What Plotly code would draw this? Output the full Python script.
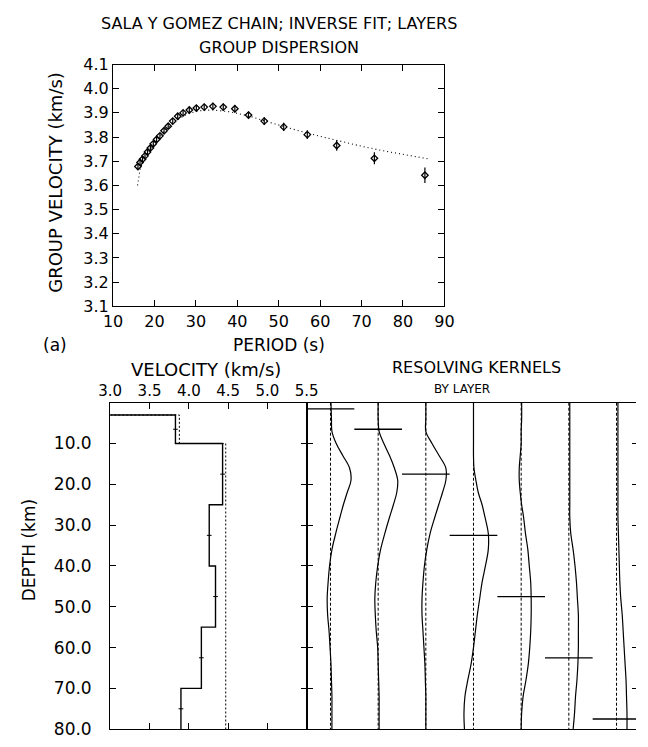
import plotly.graph_objects as go

# ---------------- Group dispersion (top panel) ----------------
period_obs = [16.0, 16.5, 17.1, 17.7, 18.3, 19.0, 19.7, 20.5, 21.3, 22.3, 23.3, 24.4, 25.6, 26.9,
              28.4, 30.1, 32.0, 34.1, 36.6, 39.4, 42.7, 46.5, 51.2, 56.9, 64.0, 73.1, 85.3]
u_obs = [3.678, 3.695, 3.708, 3.722, 3.738, 3.755, 3.772, 3.790, 3.805, 3.826, 3.845, 3.866, 3.886, 3.900,
         3.912, 3.920, 3.924, 3.927, 3.924, 3.917, 3.891, 3.866, 3.842, 3.810, 3.765, 3.712, 3.642]
u_err = [0.012, 0.012, 0.012, 0.012, 0.012, 0.012, 0.012, 0.012, 0.012, 0.012, 0.012, 0.012, 0.012, 0.012,
         0.013, 0.013, 0.014, 0.015, 0.015, 0.015, 0.015, 0.016, 0.017, 0.018, 0.022, 0.025, 0.032]

period_model = [15.9, 16.2, 16.5, 17.0, 18.0, 19.0, 20.0, 21.0, 22.0, 23.0, 24.0, 25.0, 26.0, 27.0, 28.0,
                30.0, 32.0, 34.0, 36.0, 38.0, 40.0, 43.0, 46.0, 50.0, 55.0, 60.0, 65.0, 70.0, 75.0, 80.0, 86.0]
u_model = [3.600, 3.640, 3.665, 3.690, 3.722, 3.750, 3.775, 3.797, 3.817, 3.835, 3.851, 3.865, 3.877, 3.887, 3.896,
           3.906, 3.911, 3.912, 3.910, 3.905, 3.898, 3.886, 3.870, 3.849, 3.825, 3.803, 3.782, 3.762, 3.744, 3.728, 3.710]

period_ticks = [10, 20, 30, 40, 50, 60, 70, 80, 90]
u_ticks = [3.1, 3.2, 3.3, 3.4, 3.5, 3.6, 3.7, 3.8, 3.9, 4.0, 4.1]

# ---------------- Layered velocity model (bottom left) ----------------
layer_top = [0, 3, 10, 25, 40, 55, 70]
layer_bot = [3, 10, 25, 40, 55, 70, 80]
vs_final = [0.0, 3.83, 4.43, 4.26, 4.34, 4.16, 3.90]
vs_start = [0.0, 3.88, 4.47, 4.47, 4.47, 4.47, 4.47]
vs_err = [0.0, 0.03, 0.03, 0.03, 0.03, 0.03, 0.03]
vel_ticks = [3.0, 3.5, 4.0, 4.5, 5.0, 5.5]
depth_ticks = [10, 20, 30, 40, 50, 60, 70, 80]

# ---------------- Resolving kernels (bottom right) ----------------
kernel_depth = [0, 4, 7, 10, 13, 16, 19, 22, 25, 28, 32, 36, 40, 44, 48, 52, 56, 60, 64, 68, 72, 76, 80]
kernel_1 = [0.01, 0.02, 0.03, 0.12, 0.26, 0.40, 0.43, 0.35, 0.27, 0.20, 0.11, 0.03, -0.02, -0.05, -0.07, -0.06, -0.03, -0.01, 0.01, 0.02, 0.03, 0.03, 0.03]
kernel_2 = [0.0, 0.0, 0.02, 0.12, 0.24, 0.34, 0.41, 0.39, 0.32, 0.24, 0.14, 0.05, -0.01, -0.05, -0.07, -0.06, -0.04, -0.01, 0.0, 0.01, 0.02, 0.02, 0.02]
kernel_3 = [0.0, 0.0, 0.0, 0.13, 0.28, 0.42, 0.42, 0.35, 0.27, 0.19, 0.09, 0.02, -0.03, -0.06, -0.08, -0.08, -0.06, -0.04, -0.02, -0.01, 0.0, 0.0, 0.0]
kernel_4 = [0.0, 0.0, 0.0, 0.0, 0.0, 0.01, 0.05, 0.10, 0.18, 0.24, 0.31, 0.31, 0.25, 0.18, 0.13, 0.08, 0.04, 0.0, -0.05, -0.12, -0.18, -0.20, -0.19]
kernel_5 = [0.01, 0.01, 0.0, 0.0, -0.02, -0.04, -0.04, -0.02, 0.01, 0.05, 0.09, 0.14, 0.17, 0.20, 0.21, 0.21, 0.20, 0.18, 0.15, 0.10, 0.04, 0.01, 0.0]
kernel_6 = [0.02, 0.02, 0.02, 0.02, 0.02, 0.02, 0.02, 0.02, 0.02, 0.02, 0.04, 0.09, 0.13, 0.16, 0.18, 0.20, 0.20, 0.20, 0.19, 0.17, 0.14, 0.12, 0.09]
kernel_7 = [0.03, 0.03, 0.03, 0.03, 0.03, 0.03, 0.03, 0.03, 0.03, 0.03, 0.04, 0.05, 0.06, 0.07, 0.09, 0.12, 0.14, 0.16, 0.18, 0.20, 0.21, 0.22, 0.22]
kernels = [kernel_1, kernel_2, kernel_3, kernel_4, kernel_5, kernel_6, kernel_7]
layer_mid = [1.5, 6.5, 17.5, 32.5, 47.5, 62.5, 77.5]
kernel_base = [0.5, 1.5, 2.5, 3.5, 4.5, 5.5, 6.5]

# ---------------- Geometry helpers (pixels -> paper) ----------------
W, H = 648, 747
def px(x):
    return x / W
def py(y):
    return 1 - y / H

FONT = "DejaVu Sans"
BLK = "black"

fig = go.Figure()

# top panel
fig.add_trace(go.Scatter(x=period_model, y=u_model, mode="lines",
                         line=dict(color=BLK, width=1.1, dash="1px,3px"), xaxis="x", yaxis="y",
                         showlegend=False, hoverinfo="skip"))
fig.add_trace(go.Scatter(x=period_obs, y=u_obs, mode="markers",
                         marker=dict(symbol="diamond-open", size=5, color=BLK, line=dict(width=1.3, color=BLK)),
                         error_y=dict(type="data", array=u_err, color=BLK, thickness=1.2, width=0),
                         xaxis="x", yaxis="y", showlegend=False))

# velocity model step lines
def steps(vals):
    xs, ys = [], []
    for v, t, b in zip(vals, layer_top, layer_bot):
        xs += [v, v]
        ys += [t, b]
    return xs, ys

sx, sy = steps(vs_start)
fig.add_trace(go.Scatter(x=sx, y=sy, mode="lines", line=dict(color=BLK, width=1.0, dash="2px,2px"),
                         xaxis="x2", yaxis="y2", showlegend=False, hoverinfo="skip"))
fx, fy = steps(vs_final)
fig.add_trace(go.Scatter(x=fx, y=fy, mode="lines", line=dict(color=BLK, width=1.4),
                         xaxis="x2", yaxis="y2", showlegend=False))
mids = [(t + b) / 2 for t, b in zip(layer_top, layer_bot)]
fig.add_trace(go.Scatter(x=vs_final[1:], y=mids[1:], mode="markers", marker=dict(size=1, color=BLK),
                         error_x=dict(type="data", array=vs_err[1:], color=BLK, thickness=1, width=0),
                         xaxis="x2", yaxis="y2", showlegend=False))

# kernel baselines (dashed)
bx, by = [], []
for b in kernel_base:
    bx += [b, b, None]
    by += [0, 80, None]
fig.add_trace(go.Scatter(x=bx, y=by, mode="lines", line=dict(color=BLK, width=1, dash="3px,2px"),
                         xaxis="x3", yaxis="y3", showlegend=False, hoverinfo="skip"))
# kernel curves
for b, k in zip(kernel_base, kernels):
    fig.add_trace(go.Scatter(x=[b + v for v in k], y=kernel_depth, mode="lines", line_shape="spline",
                             line=dict(color=BLK, width=1.2), xaxis="x3", yaxis="y3", showlegend=False))
# layer bars
fig.add_trace(go.Scatter(x=kernel_base, y=layer_mid, mode="markers", marker=dict(size=1, color=BLK),
                         error_x=dict(type="constant", value=0.5, color=BLK, thickness=1.3, width=0),
                         xaxis="x3", yaxis="y3", showlegend=False))
# invisible trace for right-side tick axis
fig.add_trace(go.Scatter(x=[None], y=[None], xaxis="x3", yaxis="y4", showlegend=False))

axis_common = dict(showgrid=False, zeroline=False, showline=True, linecolor=BLK, linewidth=1.3,
                   ticks="inside", tickcolor=BLK, tickwidth=1.2, ticklen=6,
                   tickfont=dict(family=FONT, size=16, color=BLK))

kx_max = (W - 306) / 49.5

fig.update_layout(
    width=W, height=H, margin=dict(l=0, r=0, t=0, b=0),
    paper_bgcolor="white", plot_bgcolor="white",
    font=dict(family=FONT, color=BLK),
    xaxis=dict(axis_common, domain=[px(105), px(449)], range=[10, 90], tickvals=period_ticks,
               mirror="ticks", anchor="y"),
    yaxis=dict(axis_common, domain=[py(305), py(57)], range=[3.1, 4.1], tickvals=u_ticks,
               tickformat=".1f", mirror="ticks", anchor="x"),
    xaxis2=dict(axis_common, domain=[px(102), px(306)], range=[3.0, 5.5], tickvals=vel_ticks,
                tickformat=".1f", side="top", mirror="ticks", anchor="y2",
                tickfont=dict(family=FONT, size=15, color=BLK)),
    yaxis2=dict(axis_common, domain=[py(739), py(404)], range=[80, 0], tickvals=depth_ticks,
                ticktext=["%.1f" % d for d in depth_ticks], mirror="ticks", anchor="x2",
                ticklabelstandoff=14, tickfont=dict(family=FONT, size=17, color=BLK)),
    xaxis3=dict(showgrid=False, zeroline=False, showline=True, linecolor=BLK, linewidth=1.3,
                mirror=True, ticks="", showticklabels=False, domain=[px(306), 1.0],
                range=[0, kx_max], anchor="y3"),
    yaxis3=dict(axis_common, domain=[py(739), py(404)], range=[80, 0], tickvals=depth_ticks[:-1],
                showticklabels=False, anchor="x3"),
    yaxis4=dict(showgrid=False, zeroline=False, showline=False, ticks="inside", tickcolor=BLK,
                tickwidth=1, ticklen=4, tickvals=depth_ticks[:-1], showticklabels=False,
                range=[80, 0], overlaying="y3", side="right", anchor="x3"),
)

def ann(text, x, y, size=16, angle=0):
    fig.add_annotation(text=text, x=px(x), y=py(y), xref="paper", yref="paper",
                       showarrow=False, xanchor="center", yanchor="middle", textangle=angle,
                       font=dict(family=FONT, size=size, color=BLK))

ann("SALA Y GOMEZ CHAIN; INVERSE FIT; LAYERS", 277, 15)
ann("GROUP DISPERSION", 277, 40)
ann("GROUP VELOCITY (km/s)", 45, 178, size=18, angle=-90)
ann("PERIOD (s)", 277, 345, size=17)
ann("(a)", 45, 345, size=17)
ann("VELOCITY (km/s)", 201, 370, size=18)
ann("RESOLVING KERNELS", 482, 368, size=16)
ann("BY LAYER", 467, 390, size=12)
ann("DEPTH (km)", 18, 555, size=17, angle=-90)

fig.write_html("out.html")
